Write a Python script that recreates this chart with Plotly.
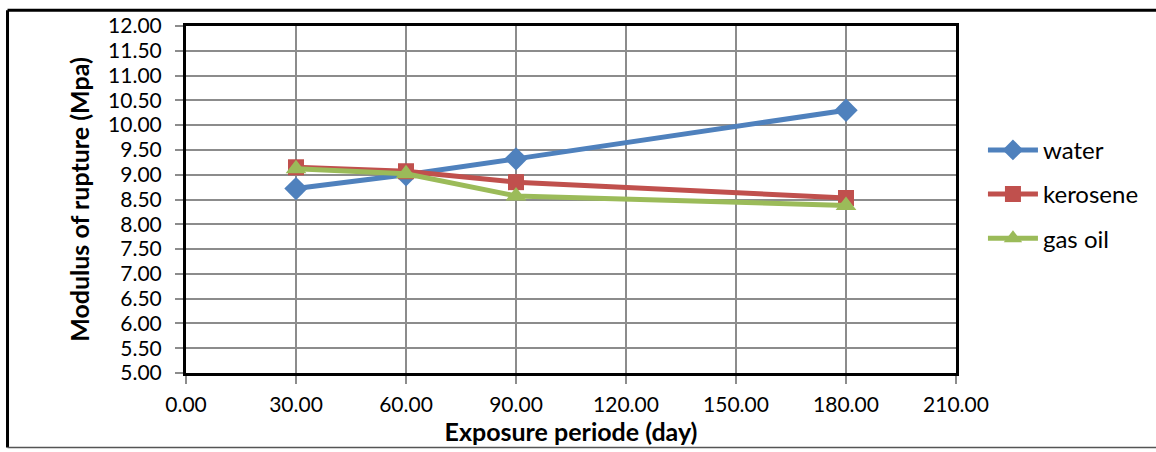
import plotly.graph_objects as go

# Exposure periods (days) and modulus of rupture (MPa) per curing medium
days = [30, 60, 90, 180]
water = [8.72, 9.00, 9.32, 10.30]
kerosene = [9.15, 9.07, 8.85, 8.53]
gas_oil = [9.12, 9.02, 8.57, 8.38]

series = [
    ("water", water, "#4F81BD", "diamond", 18),
    ("kerosene", kerosene, "#C0504D", "square", 16),
    ("gas oil", gas_oil, "#9BBB59", "triangle-up", 18),
]

fig = go.Figure()
for i, (name, vals, color, symbol, size) in enumerate(series):
    fig.add_trace(go.Scatter(
        x=days, y=vals, name=name, mode="lines+markers",
        legendgroup=f"g{i}",
        line=dict(color=color, width=5),
        marker=dict(symbol=symbol, size=size, color=color),
    ))

grid = "#8c8c8c"

fig.update_layout(
    width=1156, height=452,
    margin=dict(l=186, r=200, t=22, b=78),
    paper_bgcolor="white", plot_bgcolor="white",
    showlegend=True,
    legend=dict(
        x=1.035, y=0.515, xanchor="left", yanchor="middle",
        font=dict(family="Lato", size=24, color="black"),
        tracegroupgap=10, itemwidth=50,
        bgcolor="rgba(0,0,0,0)",
    ),
    xaxis=dict(
        range=[0, 210], dtick=30, tick0=0, tickformat=".2f",
        showgrid=True, gridcolor=grid, gridwidth=1.5,
        showline=True, linecolor="black", linewidth=3, mirror=True,
        ticks="outside", ticklen=8, tickcolor=grid, tickwidth=1.5,
        ticklabelstandoff=3,
        tickfont=dict(family="Lato", size=21, color="black"),
        title=dict(text="<b>Exposure periode (day)</b>",
                   font=dict(family="Lato", size=25, color="black"),
                   standoff=6),
        zeroline=False,
    ),
    yaxis=dict(
        range=[5, 12], dtick=0.5, tick0=5, tickformat=".2f",
        showgrid=True, gridcolor=grid, gridwidth=1.5,
        showline=True, linecolor="black", linewidth=3, mirror=True,
        ticks="outside", ticklen=8, tickcolor=grid, tickwidth=1.5,
        ticklabelstandoff=9,
        tickfont=dict(family="Lato", size=21, color="black"),
        title=dict(text="<b>Modulus of rupture (Mpa)</b>",
                   font=dict(family="Lato", size=25, color="black"),
                   standoff=12),
        zeroline=False,
    ),
    shapes=[
        # outer chart frame
        dict(type="line", xref="paper", yref="paper",
             x0=-0.2318, x1=1.27, y0=1.0455, y1=1.0455,
             line=dict(color="black", width=3)),
        dict(type="line", xref="paper", yref="paper",
             x0=-0.2318, x1=-0.2318, y0=-0.2145, y1=1.0455,
             line=dict(color="black", width=3)),
        dict(type="line", xref="paper", yref="paper",
             x0=-0.2318, x1=1.27, y0=-0.2145, y1=-0.2145,
             line=dict(color="#555555", width=1.5)),
    ],
)

fig.write_html("out.html")
